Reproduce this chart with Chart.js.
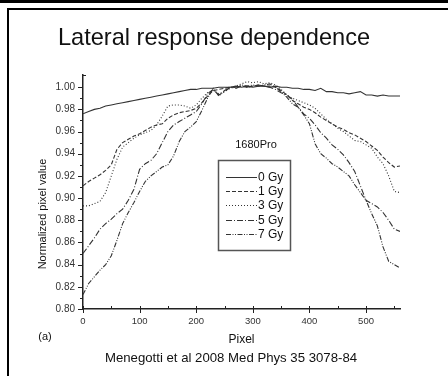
<!DOCTYPE html>
<html>
<head>
<meta charset="utf-8">
<script src="https://cdn.jsdelivr.net/npm/chart.js@4"></script>
<style>
  html, body { margin: 0; padding: 0; background: #fff; }
  canvas { display: block; }
</style>
</head>
<body>
<canvas id="latChart" width="448" height="376"></canvas>
<script>
// lateral profiles, normalized pixel value vs pixel
const pixel = [0, 10, 20, 30, 40, 50, 60, 70, 80, 90, 100, 110, 120, 130, 140, 150, 160, 170, 180, 190,
  200, 210, 220, 230, 240, 250, 260, 270, 280, 290, 300, 310, 320, 330, 340, 350, 360, 370, 380, 390,
  400, 410, 420, 430, 440, 450, 460, 470, 480, 490, 500, 510, 520, 530, 540, 550, 560];

const gy0 = [0.976, 0.978, 0.980, 0.981, 0.983, 0.984, 0.985, 0.986, 0.987, 0.988, 0.989, 0.990, 0.991, 0.992, 0.993, 0.994, 0.995, 0.996, 0.997, 0.998,
  0.998, 0.999, 0.999, 0.999, 1.000, 1.000, 1.000, 1.001, 1.000, 1.001, 1.000, 1.001, 1.001, 1.000, 1.001, 1.000, 1.000, 0.999, 0.999, 0.998,
  0.998, 0.997, 0.999, 0.996, 0.996, 0.995, 0.995, 0.994, 0.995, 0.996, 0.993, 0.993, 0.992, 0.993, 0.992, 0.992, 0.992];

const gy1 = [0.911, 0.915, 0.918, 0.921, 0.925, 0.930, 0.944, 0.950, 0.953, 0.956, 0.958, 0.961, 0.964, 0.966, 0.967, 0.972, 0.975, 0.977, 0.978, 0.979,
  0.981, 0.986, 0.992, 0.997, 0.998, 0.999, 1.000, 1.000, 1.001, 1.000, 1.001, 1.002, 1.001, 1.001, 1.000, 0.997, 0.993, 0.988, 0.985, 0.982,
  0.980, 0.977, 0.973, 0.970, 0.967, 0.964, 0.962, 0.959, 0.957, 0.954, 0.951, 0.947, 0.943, 0.937, 0.932, 0.928, 0.929];

const gy3 = [0.893, 0.893, 0.895, 0.897, 0.905, 0.920, 0.935, 0.946, 0.950, 0.954, 0.957, 0.959, 0.961, 0.966, 0.974, 0.983, 0.984, 0.984, 0.983, 0.981,
  0.984, 0.990, 0.995, 0.997, 0.994, 0.996, 0.999, 1.001, 1.003, 1.005, 1.004, 1.005, 1.003, 1.004, 1.002, 0.998, 0.993, 0.990, 0.988, 0.986,
  0.984, 0.981, 0.976, 0.971, 0.967, 0.963, 0.960, 0.956, 0.952, 0.951, 0.948, 0.945, 0.937, 0.931, 0.920, 0.906, 0.905];

const gy5 = [0.850, 0.857, 0.864, 0.872, 0.877, 0.881, 0.886, 0.890, 0.898, 0.908, 0.926, 0.931, 0.934, 0.940, 0.950, 0.960, 0.966, 0.969, 0.972, 0.975,
  0.978, 0.985, 0.994, 0.998, 0.993, 0.996, 1.000, 0.999, 1.001, 1.000, 1.001, 1.002, 1.001, 1.000, 0.998, 0.995, 0.993, 0.989, 0.982, 0.976,
  0.972, 0.966, 0.959, 0.954, 0.948, 0.944, 0.939, 0.932, 0.924, 0.911, 0.898, 0.895, 0.892, 0.887, 0.880, 0.872, 0.870];

const gy7 = [0.813, 0.823, 0.829, 0.835, 0.840, 0.848, 0.862, 0.877, 0.887, 0.896, 0.906, 0.915, 0.920, 0.924, 0.928, 0.930, 0.938, 0.951, 0.960, 0.964,
  0.969, 0.979, 0.990, 0.999, 0.992, 0.997, 1.000, 1.000, 1.002, 1.001, 1.002, 1.001, 1.002, 1.003, 1.000, 0.996, 0.991, 0.985, 0.982, 0.975,
  0.967, 0.949, 0.940, 0.936, 0.931, 0.928, 0.924, 0.920, 0.912, 0.905, 0.898, 0.886, 0.875, 0.856, 0.843, 0.840, 0.837];

const doseLabels = ['0 Gy', '1 Gy', '3 Gy', '5 Gy', '7 Gy'];
const xTicks = [0, 100, 200, 300, 400, 500];
const xMinor = [50, 150, 250, 350, 450, 550];
const yTicks = [0.80, 0.82, 0.84, 0.86, 0.88, 0.90, 0.92, 0.94, 0.96, 0.98, 1.00];
const yMinor = [0.81, 0.83, 0.85, 0.87, 0.89, 0.91, 0.93, 0.95, 0.97, 0.99];

const FONT = '"Liberation Sans", Arial, sans-serif';
const lineCol = '#333';
const dashes = [[], [4, 2], [1, 2], [6, 2, 1, 2], [5, 1.5, 1, 1.5, 1, 1.5]];
const series = [gy0, gy1, gy3, gy5, gy7];

const datasets = series.map((s, i) => ({
  label: doseLabels[i],
  data: pixel.map((x, j) => ({ x: x, y: s[j] })),
  borderColor: lineCol,
  borderWidth: 1.1,
  borderDash: dashes[i],
  pointRadius: 0,
  tension: 0,
  fill: false
}));

// frame, titles, ticks and the inset legend
const decor = {
  id: 'decor',
  beforeDraw(chart) {
    const ctx = chart.ctx;
    ctx.save();
    ctx.fillStyle = '#fff';
    ctx.fillRect(0, 0, chart.width, chart.height);
    ctx.restore();
  },
  afterDraw(chart) {
    const ctx = chart.ctx;
    const xs = chart.scales.x, ys = chart.scales.y;
    const ax = xs.left, ay = ys.bottom;
    ctx.save();
    // frame
    ctx.fillStyle = '#000';
    ctx.fillRect(0, 0, 448, 3);
    ctx.fillRect(7, 8, 441, 2);
    ctx.fillRect(7, 8, 2, 368);

    // tick marks
    ctx.strokeStyle = '#222';
    ctx.lineWidth = 1;
    ctx.beginPath();
    xTicks.forEach(v => {
      const px = Math.round(xs.getPixelForValue(v)) + 0.5;
      ctx.moveTo(px, ay - 3); ctx.lineTo(px, ay + 4);
    });
    xMinor.forEach(v => {
      const px = Math.round(xs.getPixelForValue(v)) + 0.5;
      ctx.moveTo(px, ay - 3); ctx.lineTo(px, ay);
    });
    yTicks.forEach(v => {
      const py = Math.round(ys.getPixelForValue(v)) + 0.5;
      ctx.moveTo(ax - 5, py); ctx.lineTo(ax, py);
    });
    yMinor.forEach(v => {
      const py = Math.round(ys.getPixelForValue(v)) + 0.5;
      ctx.moveTo(ax - 3, py); ctx.lineTo(ax, py);
    });
    ctx.moveTo(ax, ys.top + 0.5); ctx.lineTo(ax + 3, ys.top + 0.5);
    ctx.stroke();

    // texts
    ctx.fillStyle = '#111';
    ctx.textAlign = 'center';
    ctx.textBaseline = 'alphabetic';
    ctx.font = '23.6px ' + FONT;
    ctx.fillText('Lateral response dependence', 214, 45);

    ctx.textBaseline = 'middle';
    ctx.font = '12px ' + FONT;
    ctx.fillText('Pixel', (xs.left + xs.right) / 2, 340);
    ctx.font = '11px ' + FONT;
    ctx.fillText('(a)', 45, 337);
    ctx.fillText('1680Pro', 256, 145);
    ctx.font = '13.2px ' + FONT;
    ctx.fillText('Menegotti et al 2008 Med Phys 35 3078-84', 231, 358);

    ctx.save();
    ctx.translate(43, 214);
    ctx.rotate(-Math.PI / 2);
    ctx.font = '11px ' + FONT;
    ctx.fillText('Normalized pixel value', 0, 0);
    ctx.restore();

    // legend box
    ctx.strokeStyle = '#555';
    ctx.lineWidth = 1.5;
    ctx.strokeRect(218.5, 160.5, 72, 90);
    ctx.font = '12px ' + FONT;
    ctx.textAlign = 'left';
    chart.data.datasets.forEach((ds, i) => {
      const y = Math.round(177 + i * 14.2) + 0.5;
      ctx.strokeStyle = ds.borderColor;
      ctx.lineWidth = 1;
      ctx.setLineDash(ds.borderDash);
      ctx.beginPath();
      ctx.moveTo(226, y); ctx.lineTo(257, y);
      ctx.stroke();
      ctx.setLineDash([]);
      ctx.fillStyle = '#111';
      ctx.fillText(ds.label, 258, y);
    });
    ctx.restore();
  }
};

new Chart(document.getElementById('latChart'), {
  type: 'line',
  data: { datasets: datasets },
  plugins: [decor],
  options: {
    responsive: false,
    animation: false,
    devicePixelRatio: 1,
    layout: { padding: { left: 0, top: 75, right: 48, bottom: 0 } },
    plugins: {
      legend: { display: false },
      tooltip: { enabled: false }
    },
    scales: {
      x: {
        type: 'linear',
        min: 0,
        max: 560,
        afterBuildTicks: s => { s.ticks = xTicks.map(v => ({ value: v })); },
        afterFit: s => { s.height = 67; },
        grid: { display: false, drawTicks: false },
        border: { display: true, color: '#222', width: 1.5 },
        ticks: { color: '#333', font: { family: FONT, size: 9.5 }, padding: 7, maxRotation: 0 }
      },
      y: {
        type: 'linear',
        min: 0.80,
        max: 1.011,
        afterBuildTicks: s => { s.ticks = yTicks.map(v => ({ value: v })); },
        afterFit: s => { s.width = 83; },
        grid: { display: false, drawTicks: false },
        border: { display: true, color: '#222', width: 1.5 },
        ticks: {
          color: '#333',
          font: { family: FONT, size: 10 },
          padding: 8,
          callback: v => v.toFixed(2)
        }
      }
    }
  }
});
</script>
</body>
</html>
